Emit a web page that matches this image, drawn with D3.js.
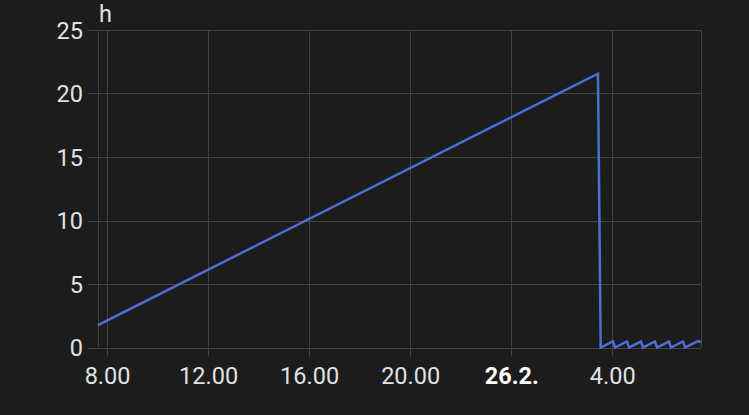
<!DOCTYPE html>
<html><head><meta charset="utf-8">
<script src="https://cdn.jsdelivr.net/npm/d3@7"></script>
<style>html,body{margin:0;padding:0;background:#1c1c1c;}svg{display:block}</style>
</head><body>
<svg id="c" width="749" height="415"></svg>
<script>
// Data: hours since last event
const times = [
  "2024-02-25T07:38:30","2024-02-26T03:26:00","2024-02-26T03:32:30",
  "2024-02-26T04:01:40","2024-02-26T04:06:25","2024-02-26T04:35:00","2024-02-26T04:39:40",
  "2024-02-26T05:08:10","2024-02-26T05:12:55","2024-02-26T05:41:25","2024-02-26T05:46:10",
  "2024-02-26T06:14:40","2024-02-26T06:19:20","2024-02-26T06:48:00","2024-02-26T06:52:50",
  "2024-02-26T07:23:25","2024-02-26T07:30:40"
];
const values = [
  1.77, 21.56, 0,
  0.49, 0, 0.48, 0,
  0.47, 0, 0.48, 0,
  0.47, 0, 0.48, 0,
  0.51, 0.42
];
const xDomain = ["2024-02-25T07:38:30","2024-02-26T07:30:45"];
const xTickTimes = ["2024-02-25T08:00","2024-02-25T12:00","2024-02-25T16:00","2024-02-25T20:00","2024-02-26T00:00","2024-02-26T04:00"];
const xTickLabels = ["8.00","12.00","16.00","20.00","26.2.","4.00"];
const yTicks = [0,5,10,15,20,25];
const yUnit = "h";

const W = 749, H = 415;
const m = {left: 98, right: 48, top: 30, bottom: 67.5};
const svg = d3.select("#c");
svg.append("rect").attr("width", W).attr("height", H).attr("fill", "#1c1c1c");

const parse = d3.isoParse;
const x = d3.scaleTime().domain(xDomain.map(parse)).range([m.left, W - m.right]);
const y = d3.scaleLinear().domain([0, 25]).range([H - m.bottom, m.top]);

const grid = "#424242";
const txt = "#e1e1e1";
const font = "Roboto, 'Noto Sans', sans-serif";
const fs = "23.5px";

// y labels
const gy = svg.append("g").attr("transform", `translate(${m.left},0)`);
gy.call(d3.axisLeft(y).tickValues(yTicks).tickSize(0).tickFormat(d3.format("d")));
gy.select(".domain").remove();
gy.selectAll(".tick line").remove();
gy.selectAll(".tick text").attr("x", -15).attr("dy", "0.34em")
  .attr("fill", txt).style("font-family", font).style("font-size", fs);
// horizontal grid
svg.append("g").selectAll("line").data(yTicks).join("line")
  .attr("x1", m.left - 10).attr("x2", W - m.right)
  .attr("y1", d => Math.round(y(d)) + 0.5).attr("y2", d => Math.round(y(d)) + 0.5)
  .attr("stroke", grid).attr("stroke-width", 1);

// vertical grid + x labels
const xt = xTickTimes.map(parse);
svg.append("g").selectAll("line").data(xt).join("line")
  .attr("x1", d => Math.round(x(d)) + 0.5).attr("x2", d => Math.round(x(d)) + 0.5)
  .attr("y1", m.top).attr("y2", H - m.bottom + 9)
  .attr("stroke", grid).attr("stroke-width", 1);
// borders
svg.append("g").selectAll("line").data(x.range()).join("line")
  .attr("x1", d => Math.round(d) + 0.5).attr("x2", d => Math.round(d) + 0.5)
  .attr("y1", m.top).attr("y2", H - m.bottom)
  .attr("stroke", grid).attr("stroke-width", 1);

const gx = svg.append("g").attr("transform", `translate(0,${H - m.bottom})`);
gx.call(d3.axisBottom(x).tickValues(xt).tickSize(0).tickFormat((d, i) => xTickLabels[i]));
gx.select(".domain").remove();
gx.selectAll(".tick text").attr("y", 36).attr("dy", 0)
  .attr("fill", (d, i) => xTickLabels[i] === "26.2." ? "#ffffff" : txt)
  .style("font-weight", (d, i) => xTickLabels[i] === "26.2." ? "700" : "400")
  .style("font-family", font).style("font-size", fs);

// unit label
svg.append("text").attr("x", m.left + 1).attr("y", 22).text(yUnit)
  .attr("fill", txt).style("font-family", font).style("font-size", fs);

// line
const data = times.map((t, i) => ({t: parse(t), v: values[i]}));
svg.append("path").datum(data)
  .attr("fill", "none").attr("stroke", "#4a6fd6").attr("stroke-width", 2.5)
  .attr("stroke-linejoin", "miter")
  .attr("d", d3.line().x(d => x(d.t)).y(d => y(d.v)));
</script>
</body></html>
